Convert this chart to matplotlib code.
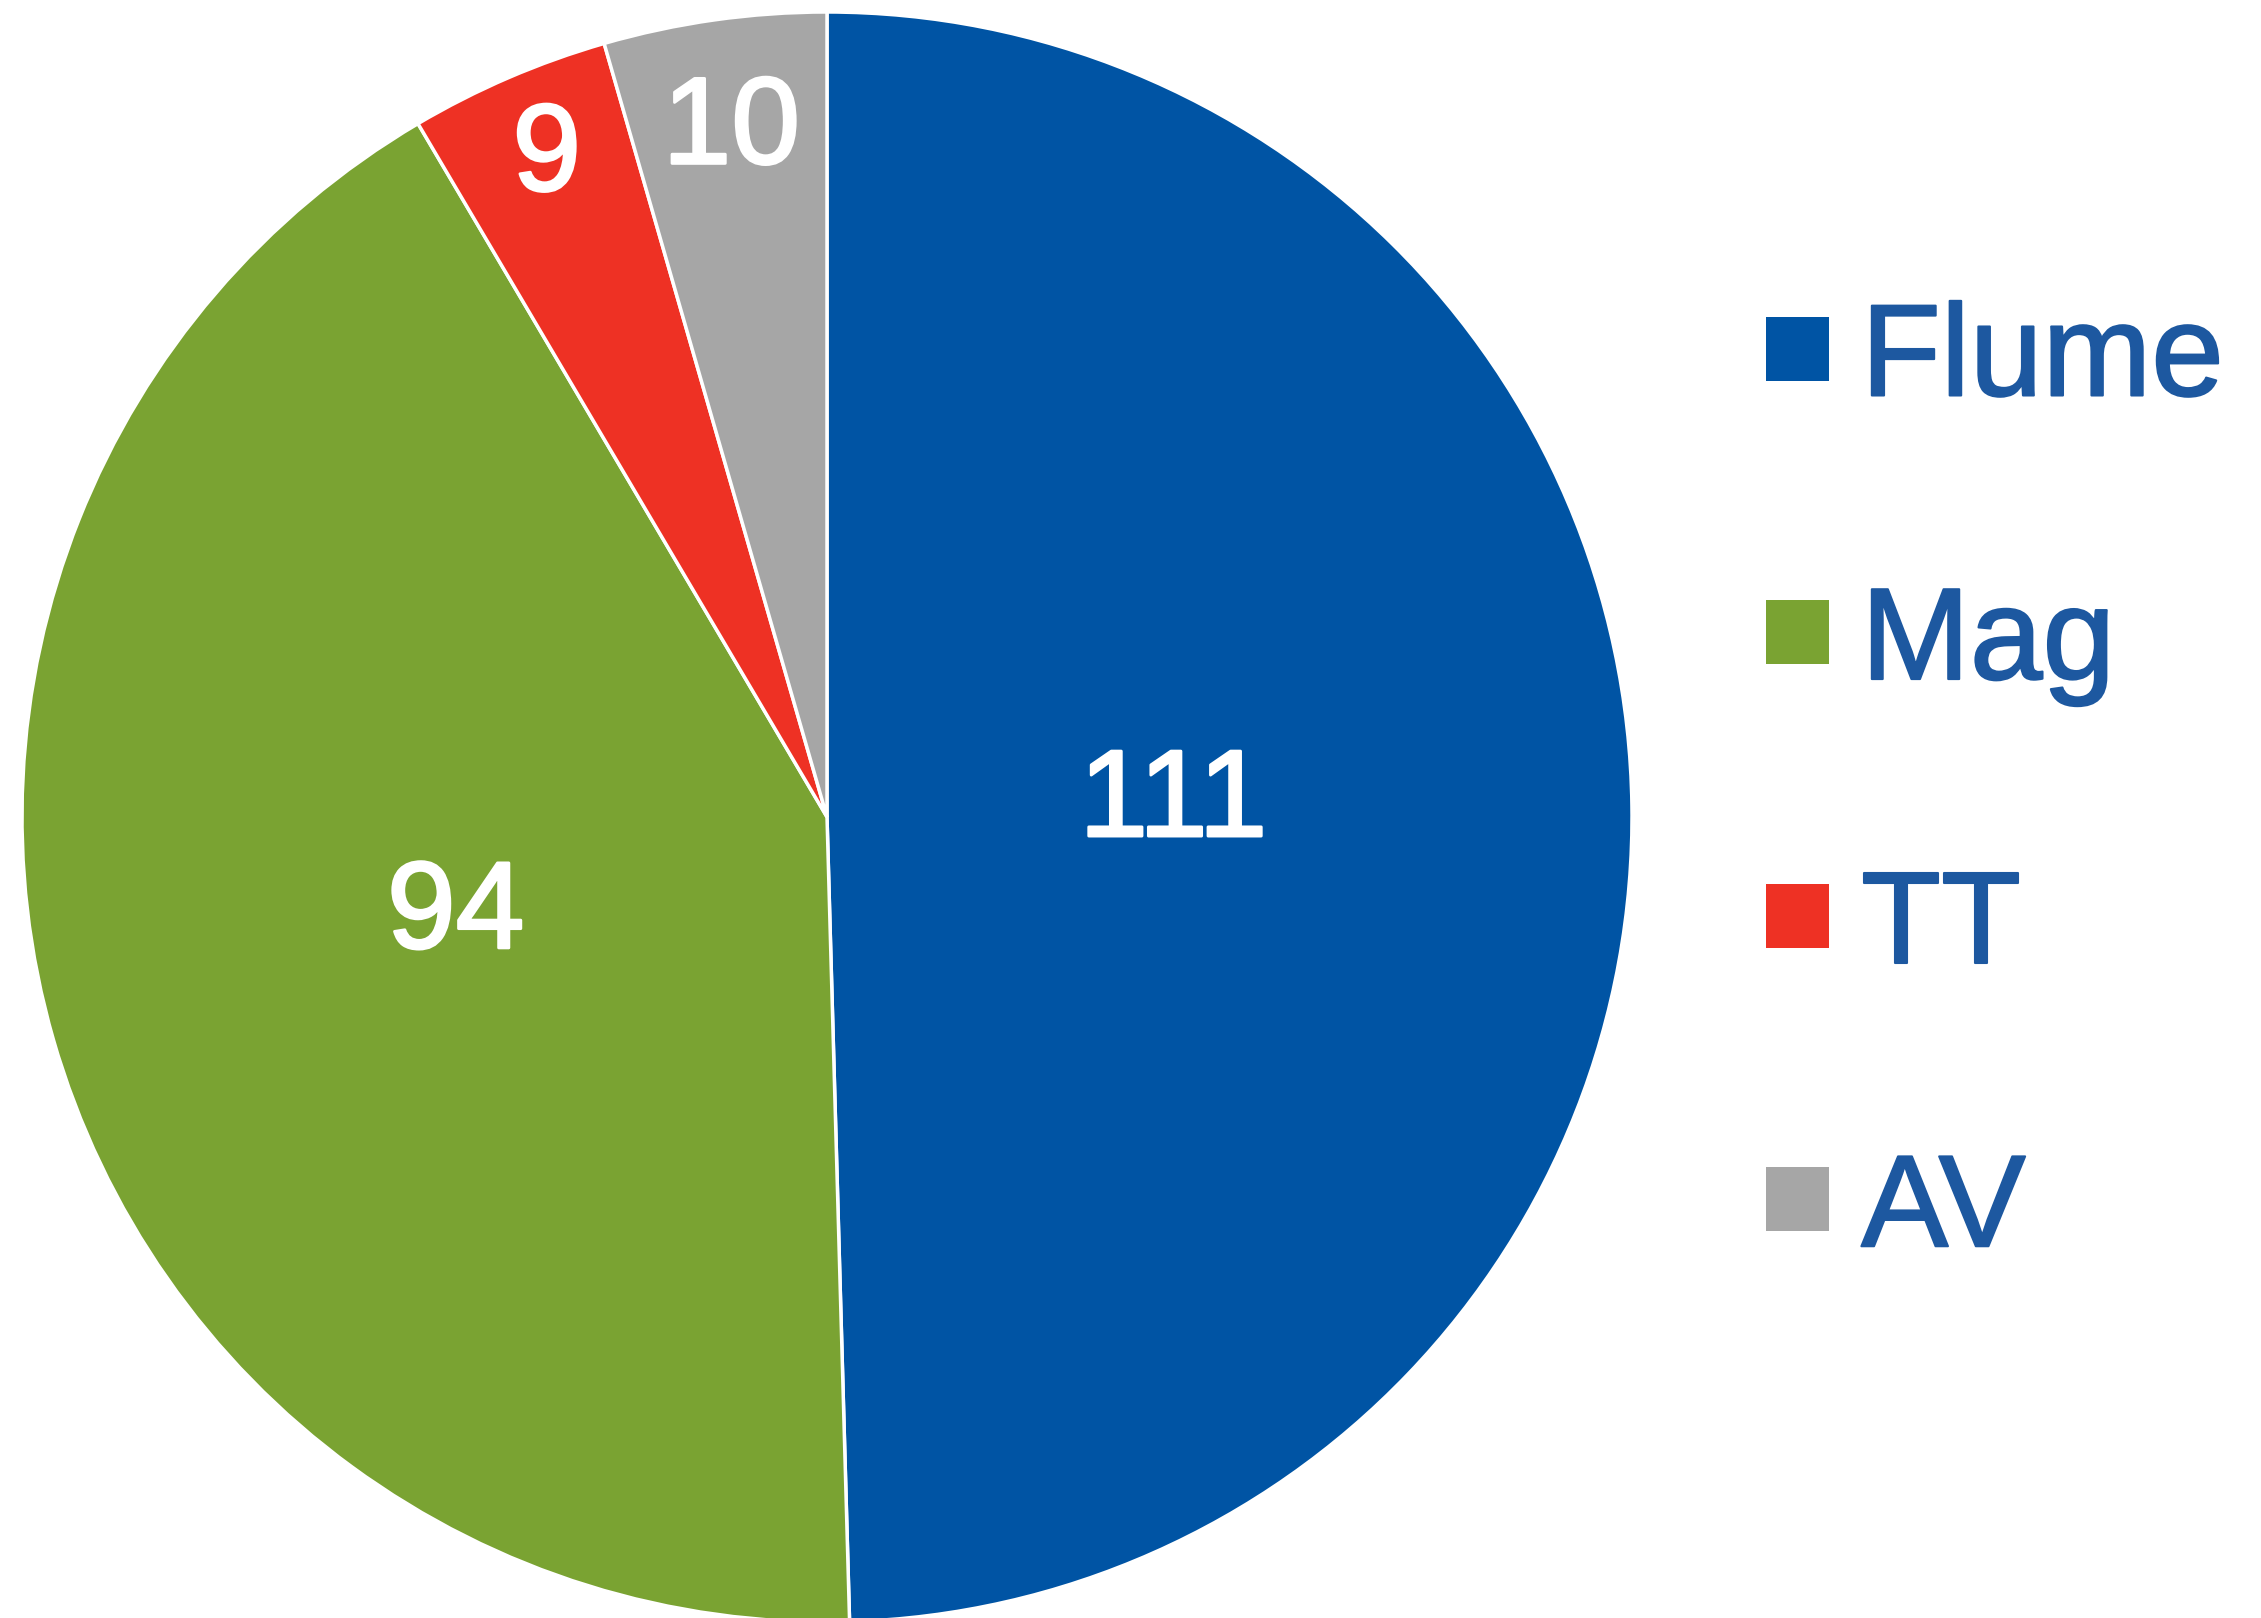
import numpy as np
import matplotlib
matplotlib.use('Agg')
import matplotlib.pyplot as plt
import matplotlib.patheffects as pe
from matplotlib.patches import Patch

categories = ['Flume', 'Mag', 'TT', 'AV']
counts = [111, 94, 9, 10]
colors = ['#0054a4', '#7aa332', '#ee3124', '#a6a6a6']

plt.rcParams['font.family'] = 'Liberation Sans'

W, H = 2261, 1618
fig = plt.figure(figsize=(W / 100, H / 100), dpi=100)
ax = fig.add_axes([0, 0, 1, 1])

wedges, _ = ax.pie(counts, colors=colors, startangle=90, counterclock=False,
                   wedgeprops=dict(edgecolor='white', linewidth=2.5))

# label radius per wedge (fraction of radius), as placed in the original
label_r = [0.43, 0.48, 0.88, 0.85]
for w, n, r in zip(wedges, counts, label_r):
    ang = np.deg2rad((w.theta1 + w.theta2) / 2)
    ax.text(r * np.cos(ang), r * np.sin(ang) + 0.01, str(n), color='white',
            fontsize=89, ha='center', va='center',
            path_effects=[pe.withStroke(linewidth=2, foreground='white',
                                        joinstyle='round', capstyle='round')])

# centre at (827, 817) px, radius 805 px
cx, cy, rad = 827, 817, 805
ax.set_xlim(-cx / rad, (W - cx) / rad)
ax.set_ylim(-(H - cy) / rad, cy / rad)
ax.set_aspect('equal')
ax.axis('off')

handles = [Patch(facecolor=c, edgecolor='none') for c in colors]
leg = fig.legend(handles, categories, loc='center left', bbox_to_anchor=(0.781, 0.514),
                 frameon=False, fontsize=94, labelcolor='#1d58a0', borderpad=0,
                 borderaxespad=0, handlelength=0.48, handleheight=0.377,
                 handletextpad=0.25, labelspacing=1.23)
for t in leg.get_texts():
    t.set_path_effects([pe.withStroke(linewidth=1.5, foreground='#1d58a0',
                                      joinstyle='round', capstyle='round')])

fig.savefig('out.png', dpi=100)
